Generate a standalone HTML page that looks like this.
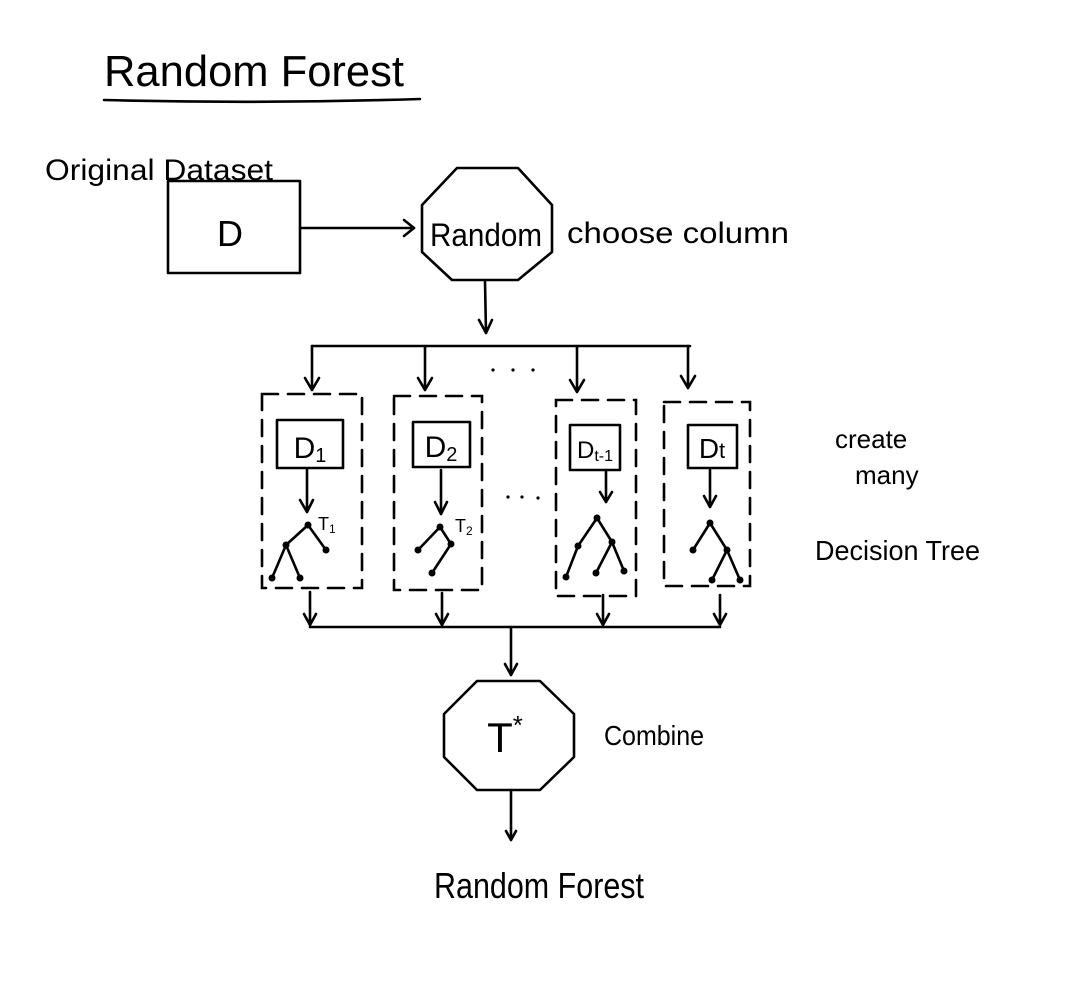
<!DOCTYPE html>
<html><head><meta charset="utf-8"><style>
html,body{margin:0;padding:0;background:#fff;}
svg{display:block;}
text{font-family:"Liberation Sans",sans-serif;fill:#000;}
</style></head><body>
<svg width="1072" height="982" viewBox="0 0 1072 982" xmlns="http://www.w3.org/2000/svg">
<g stroke="#000" stroke-width="2.6" fill="none" stroke-linecap="round" stroke-linejoin="round">
<!-- title underline -->
<path d="M104 100 Q260 104 420 99"/>
<!-- D box -->
<rect x="168" y="181" width="132" height="92"/>
<!-- arrow D -> Random -->
<path d="M300 228 H414 M404 220 L414 228 L404 236"/>
<!-- octagon Random -->
<polygon points="457,168 518,168 552,205 552,252 518,280 452,280 422,252 422,205"/>
<!-- arrow down -->
<path d="M485 281 L486 333 M479 320 L486 333 L492 320"/>
<!-- distribution line -->
<path d="M312 346 H690"/>
<path d="M312 346 V390 M305 378 L312 390 L319 378"/>
<path d="M425 346 V390 M418 378 L425 390 L432 378"/>
<path d="M577 346 V392 M570 380 L577 392 L584 380"/>
<path d="M688 346 V388 M681 376 L688 388 L695 376"/>
</g>
<!-- dots -->
<g fill="#000">
<circle cx="493" cy="370" r="1.6"/><circle cx="513" cy="370" r="1.6"/><circle cx="533" cy="370" r="1.6"/>
<circle cx="508" cy="497" r="1.6"/><circle cx="522" cy="497" r="1.6"/><circle cx="538" cy="498" r="1.6"/>
</g>
<!-- dashed boxes -->
<g stroke="#000" stroke-width="2.6" fill="none" stroke-dasharray="16 10" stroke-linecap="round">
<rect x="262" y="394" width="100" height="194"/>
<rect x="394" y="396" width="88" height="194"/>
<rect x="556" y="400" width="80" height="196"/>
<rect x="664" y="402" width="86" height="184"/>
</g>
<g stroke="#000" stroke-width="2.6" fill="none" stroke-linecap="round" stroke-linejoin="round">
<!-- inner boxes -->
<rect x="277" y="420" width="66" height="48"/>
<rect x="413" y="422" width="57" height="45"/>
<rect x="570" y="425" width="50" height="45"/>
<rect x="688" y="425" width="49" height="43"/>
<!-- arrows to trees -->
<path d="M307 470 V512 M300 500 L307 512 L313 500"/>
<path d="M441 470 V514 M435 502 L441 514 L447 502"/>
<path d="M606 470 V502 M600 492 L606 502 L612 492"/>
<path d="M710 470 V507 M704 496 L710 507 L716 496"/>
<!-- trees -->
<path d="M308 525 L286 545 L272 578 M308 525 L326 550 M286 545 L300 578"/>
<path d="M440 527 L418 550 M440 527 L451 544 L432 573"/>
<path d="M597 518 L578 546 L566 577 M597 518 L612 542 L596 573 M612 542 L624 571"/>
<path d="M710 523 L693 550 M710 523 L727 550 L712 580 M727 550 L740 580"/>
<!-- bottom arrows -->
<path d="M310 592 V625 M304 614 L310 625 L316 614"/>
<path d="M442 593 V625 M436 614 L442 625 L448 614"/>
<path d="M603 595 V625 M597 614 L603 625 L609 614"/>
<path d="M720 595 V625 M714 614 L720 625 L726 614"/>
<path d="M310 627 H720"/>
<path d="M511 627 V675 M505 664 L511 675 L517 664"/>
<!-- octagon T* -->
<polygon points="477,681 540,681 574,714 574,757 540,790 477,790 444,757 444,714"/>
<path d="M511 790 L511 840 M506 831 L511 840 L516 831"/>
</g>
<g fill="#000">
<circle cx="308" cy="525" r="3.5"/><circle cx="286" cy="545" r="3.5"/><circle cx="326" cy="550" r="3.5"/><circle cx="272" cy="578" r="3.5"/><circle cx="300" cy="578" r="3.5"/>
<circle cx="440" cy="527" r="3.5"/><circle cx="418" cy="550" r="3.5"/><circle cx="451" cy="544" r="3.5"/><circle cx="432" cy="573" r="3.5"/>
<circle cx="597" cy="518" r="3.5"/><circle cx="578" cy="546" r="3.5"/><circle cx="566" cy="577" r="3.5"/><circle cx="612" cy="542" r="3.5"/><circle cx="596" cy="573" r="3.5"/><circle cx="624" cy="571" r="3.5"/>
<circle cx="710" cy="523" r="3.5"/><circle cx="693" cy="550" r="3.5"/><circle cx="727" cy="550" r="3.5"/><circle cx="712" cy="580" r="3.5"/><circle cx="740" cy="580" r="3.5"/>
</g>
<!-- text -->
<text x="104" y="86" font-size="44" textLength="300" lengthAdjust="spacingAndGlyphs">Random   Forest</text>
<text x="45" y="180" font-size="30" textLength="228" lengthAdjust="spacingAndGlyphs">Original Dataset</text>
<text x="230" y="246" font-size="36" text-anchor="middle">D</text>
<text x="486" y="246" font-size="32" text-anchor="middle" textLength="112" lengthAdjust="spacingAndGlyphs">Random</text>
<text x="567" y="243" font-size="30" textLength="222" lengthAdjust="spacingAndGlyphs">choose  column</text>
<text x="310" y="458" font-size="30" text-anchor="middle">D<tspan font-size="20" dy="4">1</tspan></text>
<text x="441" y="457" font-size="30" text-anchor="middle">D<tspan font-size="20" dy="4">2</tspan></text>
<text x="595" y="458" font-size="24" text-anchor="middle">D<tspan font-size="16" dy="3">t-1</tspan></text>
<text x="712" y="458" font-size="28" text-anchor="middle">D<tspan font-size="22">t</tspan></text>
<text x="318" y="530" font-size="18">T<tspan font-size="12" dy="3">1</tspan></text>
<text x="455" y="532" font-size="18">T<tspan font-size="12" dy="3">2</tspan></text>
<text x="835" y="448" font-size="26">create</text>
<text x="855" y="484" font-size="26">many</text>
<text x="815" y="560" font-size="28" textLength="165" lengthAdjust="spacingAndGlyphs">Decision Tree</text>
<text x="505" y="752" font-size="42" text-anchor="middle">T<tspan font-size="26" dy="-18">*</tspan></text>
<text x="604" y="745" font-size="28" textLength="100" lengthAdjust="spacingAndGlyphs">Combine</text>
<text x="434" y="898" font-size="36" textLength="210" lengthAdjust="spacingAndGlyphs">Random Forest</text>
</svg>
</body></html>
